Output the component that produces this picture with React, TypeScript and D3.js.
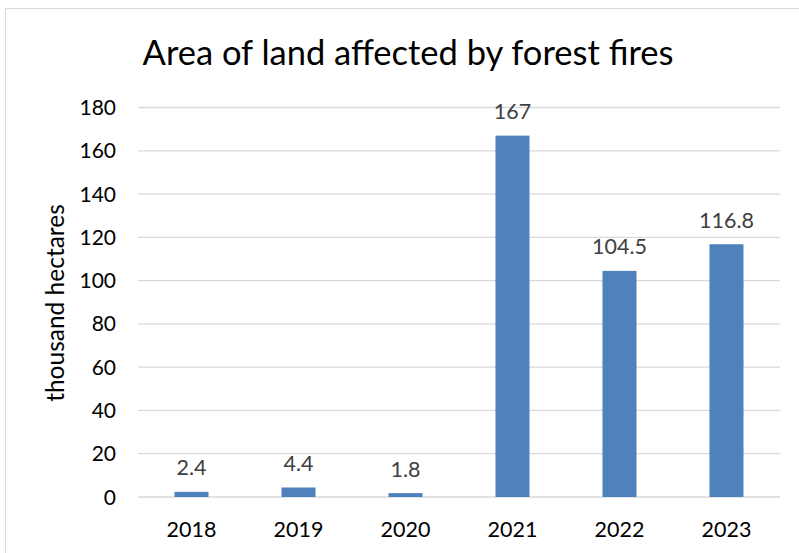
import React from "react";
import * as d3 from "d3";

const years = ["2018", "2019", "2020", "2021", "2022", "2023"];
const values = [2.4, 4.4, 1.8, 167, 104.5, 116.8];
const labels = ["2.4", "4.4", "1.8", "167", "104.5", "116.8"];
const yTicks = [0, 20, 40, 60, 80, 100, 120, 140, 160, 180];
const title = "Area of land affected by forest fires";
const yTitle = "thousand hectares";

const W = 799;
const H = 553;
const left = 138;
const right = 780;
const top = 107.5;
const bottom = 497;
const FONT = "Lato, 'Noto Sans', sans-serif";

export default function App() {
  const x = d3.scaleBand<string>().domain(years).range([left, right]).paddingInner(0.682).paddingOuter(0.341);
  const y = d3.scaleLinear().domain([0, 180]).range([bottom, top]);
  return (
    <svg width={W} height={H} style={{ position: "absolute", left: 0, top: 0, background: "#fff" }}>
      <rect x={0} y={0} width={W} height={H} fill="#fff" />
      <rect x={5.5} y={8.5} width={W + 20} height={H + 20} fill="none" stroke="#D9D9D9" strokeWidth={1.2} />
      <text x={408} y={65} textAnchor="middle" fontFamily={FONT} fontSize={34.5} fill="#000">{title}</text>
      {yTicks.map((t) => (
        <g key={t}>
          <line x1={left} x2={right} y1={y(t)} y2={y(t)} stroke="#D9D9D9" strokeWidth={1.3} />
          <text x={116} y={y(t) + 7.5} textAnchor="end" fontFamily={FONT} fontSize={21} fill="#000">{t}</text>
        </g>
      ))}
      {years.map((yr, i) => (
        <g key={yr}>
          <rect x={x(yr)} y={y(values[i])} width={x.bandwidth()} height={y(0) - y(values[i])} fill="#4F81BD" />
          <text x={(x(yr) as number) + x.bandwidth() / 2} y={y(values[i]) - 16.5} textAnchor="middle" fontFamily={FONT} fontSize={21.5} fill="#404040">{labels[i]}</text>
          <text x={(x(yr) as number) + x.bandwidth() / 2} y={536.5} textAnchor="middle" fontFamily={FONT} fontSize={21.5} fill="#000">{yr}</text>
        </g>
      ))}
      <text transform={`translate(64,303) rotate(-90)`} textAnchor="middle" fontFamily={FONT} fontSize={24.5} fill="#000">{yTitle}</text>
    </svg>
  );
}
